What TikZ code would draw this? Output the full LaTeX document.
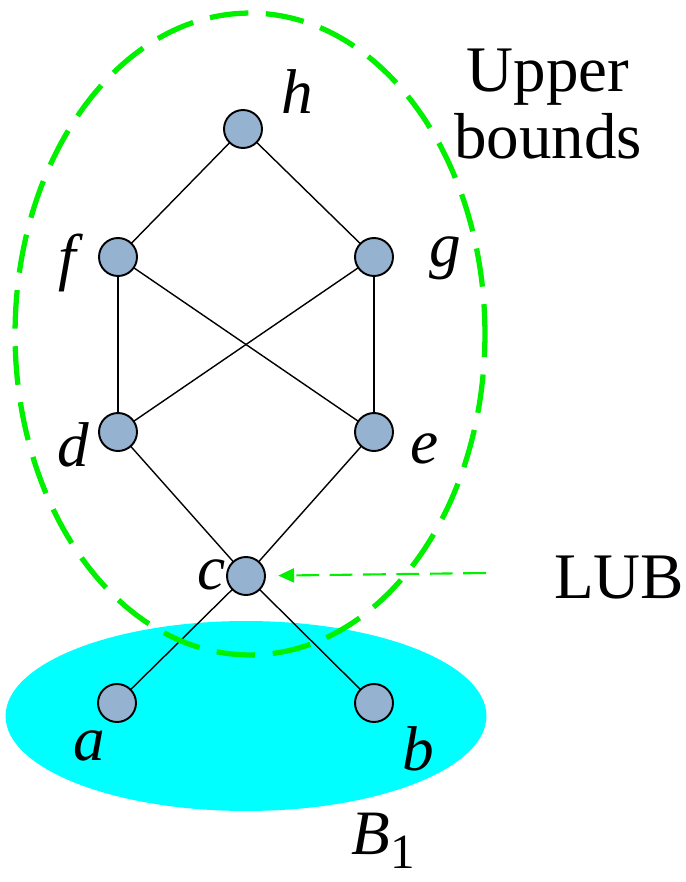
\documentclass[tikz,border=0pt]{standalone}
\usepackage{fontspec}
\setmainfont{Liberation Serif}
\usetikzlibrary{arrows.meta}
\definecolor{nodefill}{RGB}{149,179,208}
\definecolor{lubgreen}{RGB}{0,240,0}
\definecolor{bcyan}{RGB}{0,255,255}
\pgfdeclarelayer{bg}
\pgfsetlayers{bg,main}
\begin{document}
\begin{tikzpicture}[x=0.02cm,y=-0.02cm,
  vtx/.style={circle,draw=black,line width=1.1pt,fill=nodefill,minimum size=0.76cm,inner sep=0pt},
  edge/.style={black,line width=0.8pt},
  lbl/.style={font=\fontsize{36}{40}\selectfont\itshape,inner sep=0pt},
  txt/.style={font=\fontsize{37}{38.5}\selectfont,inner sep=0pt,align=center}]
\useasboundingbox (0,0) rectangle (686,882);
\node[vtx] (h) at (243,129) {};
\node[vtx] (f) at (118,257) {};
\node[vtx] (g) at (374,257) {};
\node[vtx] (d) at (118,432) {};
\node[vtx] (e) at (374,432) {};
\node[vtx] (c) at (246,576) {};
\node[vtx] (a) at (117,703) {};
\node[vtx] (b) at (374,703) {};
\begin{pgfonlayer}{bg}
\fill[bcyan] (246,716) ellipse [x radius=4.81cm, y radius=1.9cm];
\draw[edge] (h.center) -- (f.center); \draw[edge] (h.center) -- (g.center);
\draw[edge] (f.center) -- (d.center); \draw[edge] (f.center) -- (e.center);
\draw[edge] (g.center) -- (d.center); \draw[edge] (g.center) -- (e.center);
\draw[edge] (d.center) -- (c.center); \draw[edge] (e.center) -- (c.center);
\draw[edge] (c.center) -- (a.center); \draw[edge] (c.center) -- (b.center);
\draw[lubgreen,line width=3pt,dash pattern=on 22pt off 10pt,dash phase=5pt] (250,334) ellipse [x radius=4.7cm, y radius=6.42cm];
\end{pgfonlayer}
\node[lbl] (lh) at (297,92) {h};
\node[lbl] (lf) at (67,263) {f};
\node[lbl] (lg) at (445,258) {g};
\node[lbl] (ld) at (73,445) {d};
\node[lbl] (le) at (425,449) {e};
\node[lbl] (lc) at (212,575) {c};
\node[lbl] (la) at (89,746) {a};
\node[lbl] (lb) at (418,749) {b};
\node[lbl] (lB) at (383,841) {B\raisebox{-8pt}{\upshape\fontsize{28}{28}\selectfont 1}};
\node[txt] (ub) at (548,104) {Upper\\bounds};
\node[txt] (lub) at (619,578) {LUB};
\coordinate (lubs) at (486,573);
\draw[lubgreen,line width=1.2pt,dash pattern=on 13pt off 6pt,shorten >=7pt,-{Triangle[length=9pt,width=8pt]}] (lubs) -- (c);
\end{tikzpicture}
\end{document}
